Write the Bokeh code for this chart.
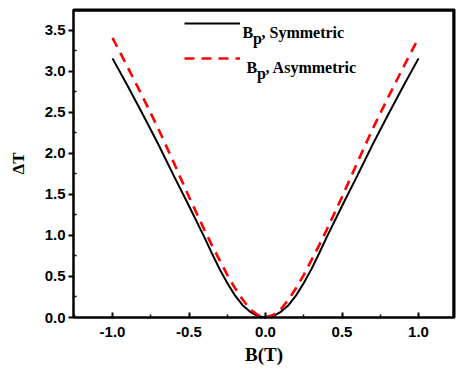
from bokeh.plotting import figure
from bokeh.models import Range1d, Legend, LegendItem, Label, FixedTicker, PrintfTickFormatter, Span
from bokeh.embed import file_html
from bokeh.resources import INLINE

# Data
b_field = [-1.0, -0.9, -0.8, -0.7, -0.6, -0.5, -0.4, -0.35, -0.3, -0.25, -0.2, -0.15, -0.1, -0.05, 0.0,
           0.05, 0.1, 0.15, 0.2, 0.25, 0.3, 0.35, 0.4, 0.5, 0.6, 0.7, 0.8, 0.9, 1.0]
dt_symmetric = [3.16, 2.82, 2.47, 2.11, 1.73, 1.36, 0.98, 0.78, 0.59, 0.42, 0.27, 0.15, 0.07, 0.018, 0.0,
                0.018, 0.07, 0.15, 0.27, 0.42, 0.59, 0.78, 0.98, 1.36, 1.73, 2.11, 2.47, 2.82, 3.16]
dt_asymmetric = [3.41, 3.05, 2.68, 2.30, 1.89, 1.47, 1.07, 0.88, 0.70, 0.52, 0.36, 0.22, 0.10, 0.03, 0.0,
                 0.03, 0.10, 0.22, 0.36, 0.52, 0.70, 0.88, 1.07, 1.47, 1.89, 2.30, 2.68, 3.05, 3.41]
x_ticks = [-1.0, -0.5, 0.0, 0.5, 1.0]
y_ticks = [0.0, 0.5, 1.0, 1.5, 2.0, 2.5, 3.0, 3.5]
x_label = "B(T)"
y_label = "\u0394T"
series_names = ["Symmetric", "Asymmetric"]

x_lo, x_hi = -1.255, 1.235
y_lo, y_hi = 0.0, 3.756

p = figure(width=456, height=372, output_backend="svg", toolbar_location=None,
           x_range=Range1d(x_lo, x_hi), y_range=Range1d(y_lo, y_hi),
           min_border_left=73, min_border_right=2, min_border_top=9, min_border_bottom=55)
p.background_fill_color = "white"
p.border_fill_color = "white"
p.grid.visible = False
p.outline_line_color = "black"
p.outline_line_width = 2
p.outline_line_alpha = 1.0

r1 = p.line(b_field, dt_symmetric, line_color="black", line_width=2)
r2 = p.line(b_field, dt_asymmetric, line_color="#ff0000", line_width=2.6, line_dash="10 7")

for ax in (p.xaxis[0], p.yaxis[0]):
    ax.axis_line_width = 2
    ax.major_tick_line_width = 2
    ax.minor_tick_line_width = 1.5
    ax.major_label_text_font = "Liberation Sans"
    ax.major_label_text_font_style = "bold"
    ax.major_label_text_font_size = "15px"
    ax.major_label_text_color = "black"
    ax.axis_label_text_font = "Liberation Serif"
    ax.axis_label_text_font_style = "bold"
    ax.axis_label_text_color = "black"
    ax.formatter = PrintfTickFormatter(format="%.1f")

p.xaxis.ticker = FixedTicker(ticks=x_ticks, minor_ticks=[-1.25, -0.75, -0.25, 0.25, 0.75])
p.yaxis.ticker = FixedTicker(ticks=y_ticks, minor_ticks=[0.25, 0.75, 1.25, 1.75, 2.25, 2.75, 3.25])
p.xaxis.major_tick_in = 5
p.xaxis.major_tick_out = 1
p.xaxis.minor_tick_in = 3
p.xaxis.minor_tick_out = 0
p.xaxis.major_label_standoff = 8
p.xaxis.axis_label = x_label
p.xaxis.axis_label_text_font_size = "19px"
p.xaxis.axis_label_standoff = 4

p.yaxis.major_tick_in = 0
p.yaxis.major_tick_out = 5
p.yaxis.minor_tick_in = 3
p.yaxis.minor_tick_out = 0
p.yaxis.major_label_standoff = 3
p.yaxis.axis_label = y_label
p.yaxis.axis_label_text_font_size = "17px"
p.yaxis.axis_label_standoff = 14

# frame border on top and right (placed 1 px inside the frame edges)
top_edge = y_hi - (y_hi - y_lo) / 308.0
right_edge = x_hi - (x_hi - x_lo) / 381.0
p.add_layout(Span(location=top_edge, dimension="width", line_color="black", line_width=2.5))
p.add_layout(Span(location=right_edge, dimension="height", line_color="black", line_width=2.5))

legend = Legend(items=[LegendItem(label=" ", renderers=[r1]),
                       LegendItem(label=" ", renderers=[r2])],
                location=(111, 249), glyph_width=56, glyph_height=20, label_height=20,
                spacing=15, padding=0, margin=0, label_standoff=0,
                label_text_font_size="4px",
                border_line_alpha=0, background_fill_alpha=0)
p.add_layout(legend, "center")

font = "Liberation Serif"
frame_left, frame_bottom = 73, 317
rows = [(242, 32, series_names[0]), (246, 67, series_names[1])]
for x0, base, name in rows:
    xs = x0 - frame_left
    ys = frame_bottom - base
    p.add_layout(Label(x=xs, y=ys, x_units="screen", y_units="screen", text="B",
                       text_font=font, text_font_style="bold", text_font_size="16px",
                       text_baseline="alphabetic", text_color="black"))
    p.add_layout(Label(x=xs + 10.5, y=ys - 6, x_units="screen", y_units="screen", text="p",
                       text_font=font, text_font_style="bold", text_font_size="16px",
                       text_baseline="alphabetic", text_color="black"))
    p.add_layout(Label(x=xs + 19, y=ys, x_units="screen", y_units="screen", text=", " + name,
                       text_font=font, text_font_style="bold", text_font_size="16px",
                       text_baseline="alphabetic", text_color="black"))

open("out.html", "w").write(file_html(p, INLINE))
